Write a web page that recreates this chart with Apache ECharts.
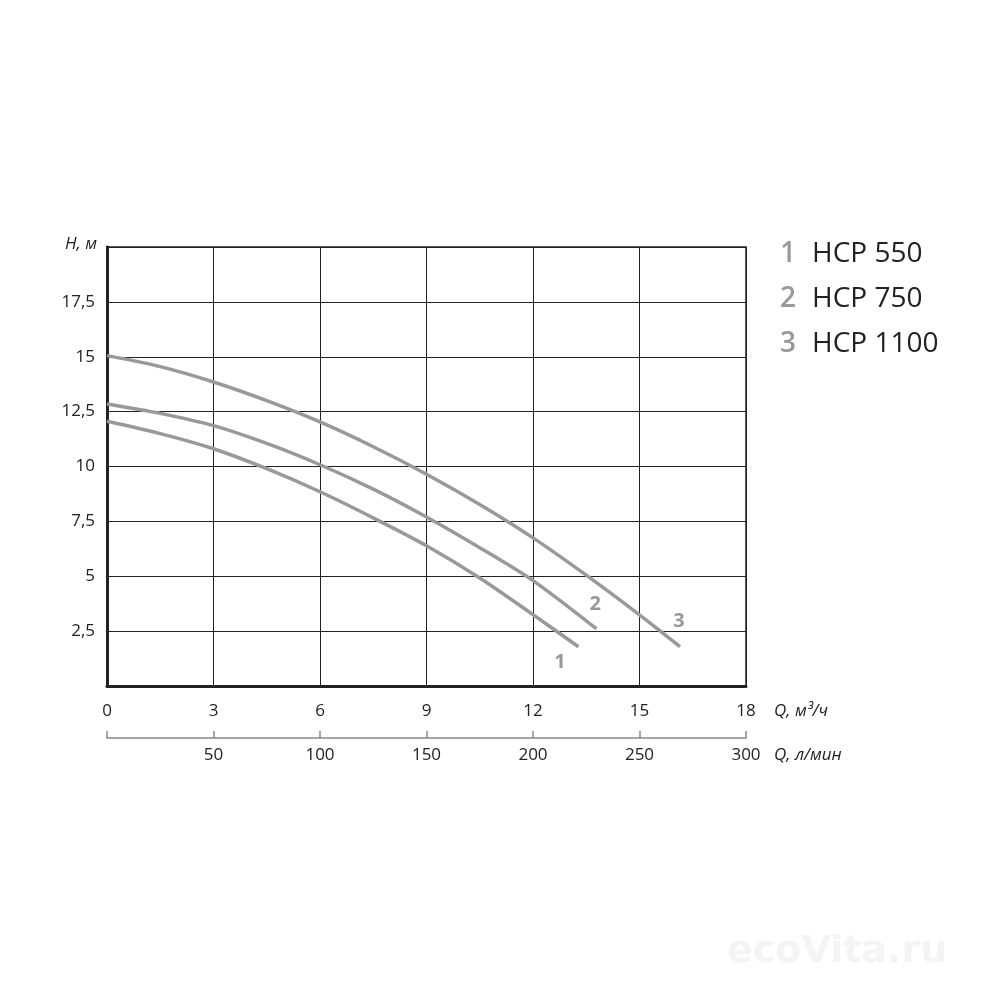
<!DOCTYPE html>
<html>
<head>
<meta charset="utf-8">
<script src="https://cdn.jsdelivr.net/npm/echarts@6/dist/echarts.min.js"></script>
<style>html,body{margin:0;padding:0;background:#fff}#c{width:1000px;height:1000px}</style>
</head>
<body>
<div id="c"></div>
<script>
// Data (Q in m³/h, H in m)
const seriesNames = ['HCP 550', 'HCP 750', 'HCP 1100'];
const seriesNums = ['1', '2', '3'];
const q1 = [0, 1.5, 3, 4.5, 6, 7.5, 9, 10.5, 12, 13.28];
const h1 = [12.06, 11.5, 10.81, 9.9, 8.85, 7.66, 6.39, 4.92, 3.25, 1.79];
const q2 = [0, 1.5, 3, 4.5, 6, 7.5, 9, 10.5, 12, 13.79];
const h2 = [12.85, 12.42, 11.86, 11.05, 10.08, 8.97, 7.7, 6.3, 4.8, 2.6];
const q3 = [0, 1.5, 3, 4.5, 6, 7.5, 9, 10.5, 12, 13.5, 15, 16.14];
const h3 = [15.05, 14.55, 13.85, 13.0, 12.03, 10.9, 9.65, 8.27, 6.75, 5.05, 3.24, 1.79];
// curve number annotations (data coordinates)
const numLabelQ = [12.76, 13.75, 16.11];
const numLabelH = [1.1, 3.7, 2.97];
// axis ticks
const qTicksM3h = [0, 3, 6, 9, 12, 15, 18];
const qTicksLmin = [0, 50, 100, 150, 200, 250, 300];
const hTicks = [0, 2.5, 5, 7.5, 10, 12.5, 15, 17.5, 20];

const FONT = 'Open Sans';
const curveColor = '#999999';
const pairs = (xs, ys) => xs.map((x, i) => [x, ys[i]]);
const curves = [pairs(q1, h1), pairs(q2, h2), pairs(q3, h3)];

const chart = echarts.init(document.getElementById('c'), null, {renderer: 'canvas'});

const series = curves.map((d, i) => ({
  name: seriesNames[i],
  type: 'line',
  data: d,
  smooth: 0.3,
  showSymbol: false,
  symbol: 'none',
  lineStyle: {color: curveColor, width: 3.5},
  z: 3,
  markPoint: {
    symbol: 'circle', symbolSize: 0,
    data: [{coord: [numLabelQ[i], numLabelH[i]]}],
    label: {show: true, formatter: seriesNums[i], color: curveColor, fontFamily: FONT,
      fontSize: 20, fontWeight: 'bold', position: 'inside'}
  }
}));
// secondary axis carrier (invisible)
series.push({type: 'line', xAxisIndex: 1, data: [], silent: true});

const legendRows = seriesNames.map((n, i) => ({
  type: 'text', left: 780, top: 240 + i * 45,
  style: {
    text: '{n|' + seriesNums[i] + '}{t|' + n + '}',
    rich: {
      n: {fontFamily: FONT, fontSize: 28, fontWeight: 600, fill: '#999999', color: '#999999', width: 32},
      t: {fontFamily: FONT, fontSize: 28, fill: '#222222', color: '#222222'}
    }
  }
}));

chart.setOption({
  backgroundColor: '#ffffff',
  animation: false,
  grid: {left: 107, right: 254, top: 247, bottom: 314, show: true, borderColor: '#222', borderWidth: 1.5, containLabel: false},
  xAxis: [{
    type: 'value', min: qTicksM3h[0], max: qTicksM3h[qTicksM3h.length - 1], interval: 3,
    position: 'bottom',
    name: 'Q, м³/ч', nameLocation: 'end', nameGap: 28,
    nameTextStyle: {fontFamily: FONT, fontSize: 17, fontStyle: 'italic', color: '#222', align: 'left', verticalAlign: 'top', padding: [17, 0, 0, 0]},
    axisLine: {show: true, onZero: false, lineStyle: {color: '#222', width: 3}},
    axisTick: {show: false},
    axisLabel: {fontFamily: FONT, fontSize: 17, color: '#222', margin: 17,
      formatter: v => qTicksM3h.includes(v) ? String(v) : ''},
    splitLine: {show: true, lineStyle: {color: '#222', width: 1}}
  }, {
    type: 'value', min: qTicksLmin[0], max: qTicksLmin[qTicksLmin.length - 1], interval: 50,
    position: 'bottom', offset: 52,
    name: 'Q, л/мин', nameLocation: 'end', nameGap: 28,
    nameTextStyle: {fontFamily: FONT, fontSize: 17, fontStyle: 'italic', color: '#222', align: 'left', verticalAlign: 'top', padding: [9, 0, 0, 0]},
    axisLine: {show: true, onZero: false, lineStyle: {color: '#888', width: 1.5}},
    axisTick: {show: true, inside: true, length: 7, lineStyle: {color: '#888', width: 1.5}},
    axisLabel: {fontFamily: FONT, fontSize: 17, color: '#222', margin: 9,
      formatter: v => (v === 0 ? '' : String(v))},
    splitLine: {show: false}
  }],
  yAxis: {
    type: 'value', min: hTicks[0], max: hTicks[hTicks.length - 1], interval: 2.5,
    name: 'H, м', nameLocation: 'end', nameGap: 3,
    nameTextStyle: {fontFamily: FONT, fontSize: 17, fontStyle: 'italic', color: '#222', align: 'right', verticalAlign: 'middle', padding: [0, 10, 0, 0]},
    axisLine: {show: true, onZero: false, lineStyle: {color: '#222', width: 3}},
    axisTick: {show: false},
    axisLabel: {fontFamily: FONT, fontSize: 17, color: '#222', margin: 12,
      formatter: v => (v === 0 || v === 20) ? '' : String(v).replace('.', ',')},
    splitLine: {show: true, lineStyle: {color: '#222', width: 1}}
  },
  graphic: legendRows.concat([{
    type: 'text', left: 727, top: 933,
    style: {text: 'ecoVita.ru', fontFamily: 'DejaVu Sans', fontSize: 38, fontWeight: 'bold', fill: '#f4f4f4'}
  }]),
  series: series
});
</script>
</body>
</html>
